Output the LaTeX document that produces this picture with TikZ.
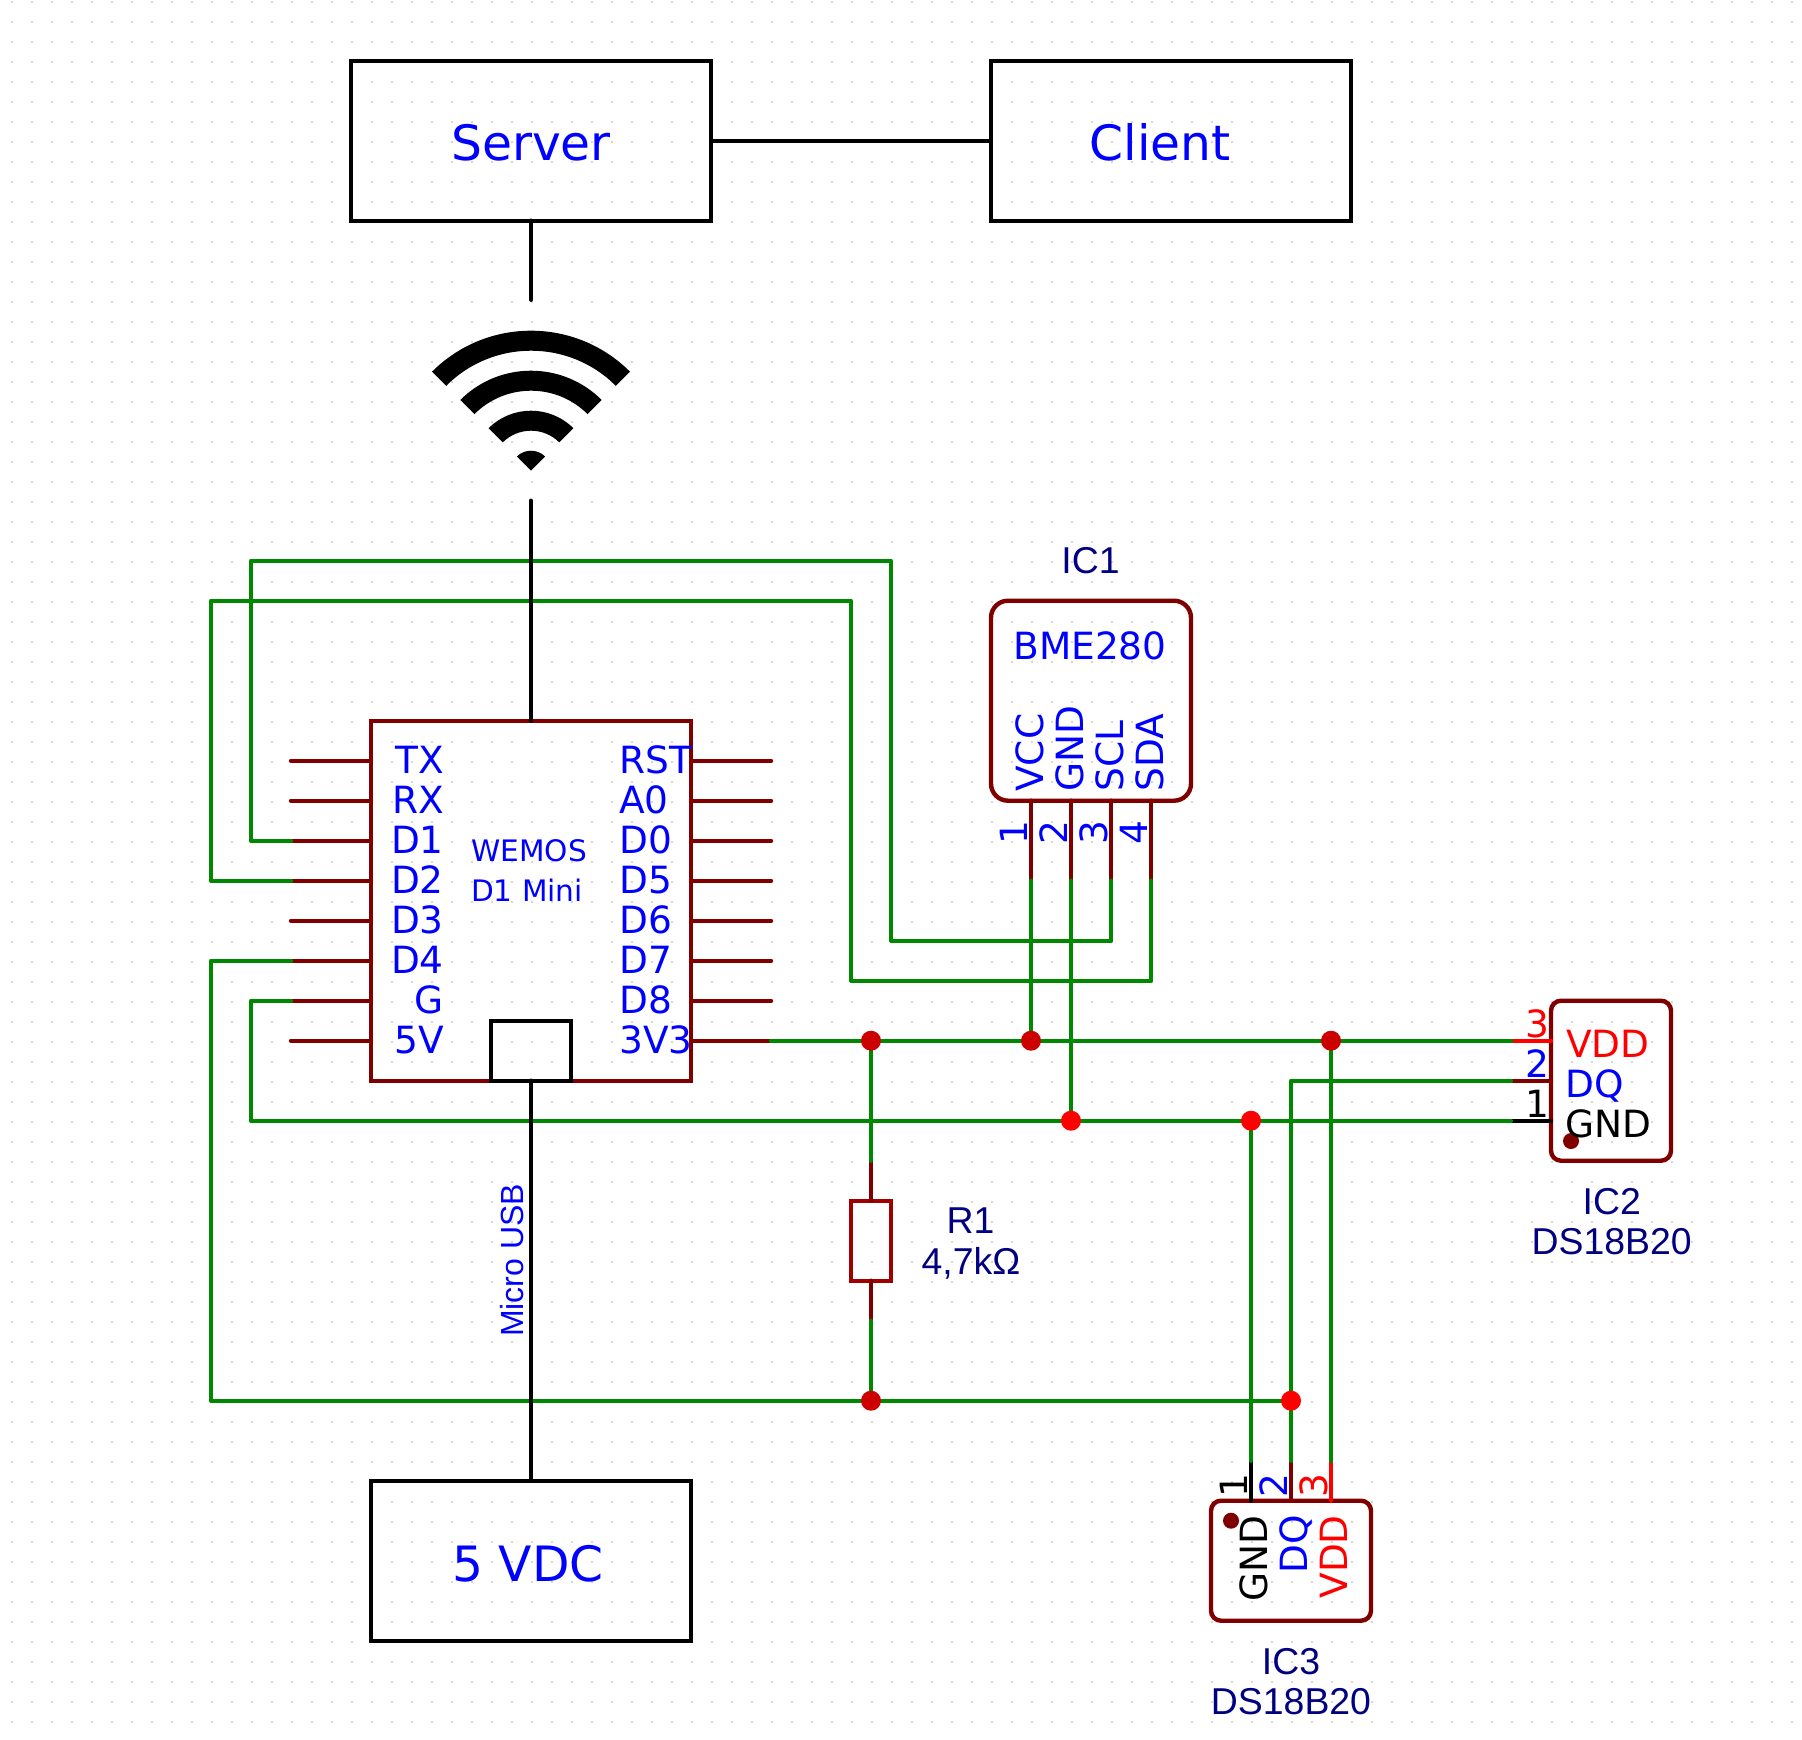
\documentclass[tikz,border=0pt]{standalone}
\usepackage{fontspec}
\newfontfamily\djfont{DejaVu Sans}
\newfontfamily\lsfont{Liberation Sans}
\definecolor{wiregreen}{HTML}{008800}
\definecolor{pinred}{HTML}{800000}
\definecolor{resred}{HTML}{A00000}
\definecolor{jdark}{HTML}{CC0000}
\definecolor{navytxt}{HTML}{000080}
\definecolor{griddot}{HTML}{D6D6D6}
\tikzset{
  x=1pt,y=-1pt,
  wire/.style={draw=wiregreen,line width=4.4pt,line join=round,line cap=round},
  pinline/.style={draw=pinred,line width=4.4pt,line cap=round},
  blk/.style={draw=black,line width=4.4pt,line cap=round},
  sqbox/.style={draw=black,line width=4.4pt,rectangle,inner sep=0pt,outer sep=0pt},
  icbox/.style={draw=pinred,line width=4.4pt,rectangle,inner sep=0pt,outer sep=0pt},
  jctdark/.style={circle,fill=jdark,minimum size=20pt,inner sep=0pt},
  jctred/.style={circle,fill=red,minimum size=20pt,inner sep=0pt},
  blue36/.style={font=\djfont\fontsize{37.5}{37.5}\selectfont,inner sep=0pt,text=blue},
  blue48/.style={font=\djfont\fontsize{48.7}{48.7}\selectfont,inner sep=0pt,text=blue},
  blue29/.style={font=\djfont\fontsize{29.6}{29.6}\selectfont,inner sep=0pt,text=blue},
  navy36/.style={font=\lsfont\fontsize{37.4}{37.4}\selectfont,inner sep=0pt,text=navytxt},
}
\begin{document}
\begin{tikzpicture}
\useasboundingbox (0,0) rectangle (1802,1740);
\fill[white] (0,0) rectangle (1802,1740);
% dotted sheet grid
\foreach \r in {0,...,86}
  \draw[griddot,line width=2pt,dash pattern=on 2pt off 18pt] (11,{1.7+20*\r}) -- (1802,{1.7+20*\r});

\begin{scope}[shift={(-1pt,1.3pt)}]
% blocks
\node[sqbox,minimum width=360pt,minimum height=160pt] (server) at (532,142) {};
\node[sqbox,minimum width=360pt,minimum height=160pt] (client) at (1172,142) {};
\node[sqbox,minimum width=320pt,minimum height=160pt] (vdc) at (532,1562) {};
\node[icbox,minimum width=320pt,minimum height=360pt] (mcu) at (532,902) {};
\node[icbox,rounded corners=17pt,minimum width=200pt,minimum height=200pt] (ic1) at (1092,702) {};
\node[icbox,rounded corners=10pt,minimum width=120pt,minimum height=160pt] (ic2) at (1612,1082) {};
\node[icbox,rounded corners=10pt,minimum width=160pt,minimum height=120pt] (ic3) at (1292,1562) {};
\node[draw=resred,line width=4.4pt,rectangle,inner sep=0pt,outer sep=0pt,minimum width=40pt,minimum height=80pt] (r1) at (872,1242) {};

% named points
\foreach \i in {1,...,8} {
  \coordinate (lp\i) at (292,{722+40*\i});
  \coordinate (rp\i) at (772,{722+40*\i});
  \draw[pinline] (lp\i) -- (mcu.west |- lp\i);
  \draw[pinline] (rp\i) -- (mcu.east |- rp\i);
}
\coordinate (p1a) at (1032,882); \coordinate (p1b) at (1072,882);
\coordinate (p1c) at (1112,882); \coordinate (p1d) at (1152,882);
\coordinate (p2v) at (1512,1042); \coordinate (p2q) at (1512,1082); \coordinate (p2g) at (1512,1122);
\coordinate (p3g) at (1252,1462); \coordinate (p3q) at (1292,1462); \coordinate (p3v) at (1332,1462);
\coordinate (rtop) at (872,1162); \coordinate (rbot) at (872,1322);
\coordinate (ja) at (872,1042); \coordinate (jb) at (1032,1042); \coordinate (jc) at (1332,1042);
\coordinate (jd) at (1072,1122); \coordinate (je) at (1252,1122);
\coordinate (jf) at (872,1402); \coordinate (jg) at (1292,1402);

% component pins
\draw[pinline] (p1a) -- (ic1.south -| p1a);
\draw[pinline] (p1b) -- (ic1.south -| p1b);
\draw[pinline] (p1c) -- (ic1.south -| p1c);
\draw[pinline] (p1d) -- (ic1.south -| p1d);
\draw[pinline,draw=red] (p2v) -- (ic2.west |- p2v);
\draw[pinline] (p2q) -- (ic2.west |- p2q);
\draw[pinline,draw=black] (p2g) -- (ic2.west |- p2g);
\draw[pinline,draw=black] (p3g) -- (ic3.north -| p3g);
\draw[pinline] (p3q) -- (ic3.north -| p3q);
\draw[pinline,draw=red] (p3v) -- (ic3.north -| p3v);
\draw[pinline] (rtop) -- (r1.north);
\draw[pinline] (rbot) -- (r1.south);

% green wires
\draw[wire] (lp3) -- (252,842) -- (252,562) -- (892,562) -- (892,942) -- (1112,942) -- (p1c);
\draw[wire] (lp4) -- (212,882) -- (212,602) -- (852,602) -- (852,982) -- (1152,982) -- (p1d);
\draw[wire] (lp6) -- (212,962) -- (212,1402) -- (jg);
\draw[wire] (lp7) -- (252,1002) -- (252,1122) -- (p2g);
\draw[wire] (rp8) -- (p2v);
\draw[wire] (p1a) -- (jb);
\draw[wire] (p1b) -- (jd);
\draw[wire] (ja) -- (rtop);
\draw[wire] (rbot) -- (jf);
\draw[wire] (p2q) -- (1292,1082) -- (p3q);
\draw[wire] (je) -- (p3g);
\draw[wire] (jc) -- (p3v);

% black links
\coordinate (wifiup) at (532,301);
\coordinate (wifidn) at (532,502);
\node[sqbox,minimum width=80pt,minimum height=60pt] (usb) at (532,1052) {};
\draw[blk,line cap=butt] (server.east) -- (client.west);
\draw[blk] (server.south) -- (wifiup);
\draw[blk] (wifidn) -- (mcu.north);
\draw[blk] (usb.south) -- (vdc.north);

% wifi symbol
\coordinate (wifi) at (532,472);
\fill[black] (wifi) -- ++(45:20pt) arc[start angle=45,end angle=135,radius=20pt] -- cycle;
\foreach \ri/\ro in {40/60,80/100,120/140}
  \fill[black] (wifi) ++(45:\ri pt) -- ++(45:{(\ro-\ri)*1pt}) arc[start angle=45,end angle=135,radius=\ro pt] -- ++(-45:{(\ro-\ri)*1pt}) arc[start angle=135,end angle=45,radius=\ri pt] -- cycle;

% junctions
\node[jctdark] (dota) at (ja) {};
\node[jctdark] (dotb) at (jb) {};
\node[jctdark] (dotc) at (jc) {};
\node[jctred] (dotd) at (jd) {};
\node[jctred] (dote) at (je) {};
\node[jctdark] (dotf) at (jf) {};
\node[jctred] (dotg) at (jg) {};
\node[circle,fill=pinred,minimum size=16pt,inner sep=0pt] (mark2) at (1572,1142.3) {};
\node[circle,fill=pinred,minimum size=16pt,inner sep=0pt] (mark3) at (1232,1522) {};
\end{scope}

% block text
\node[blue48,anchor=base] (tserver) at (531,160.5) {Server};
\node[blue48,anchor=base] (tclient) at (1160,160.5) {Client};
\node[blue48,anchor=base] (tvdc) at (528,1581) {5 VDC};
\node[blue29,anchor=base] (twemos) at (529,861) {WEMOS};
\node[blue29,anchor=base] (tmini) at (527,901) {D1 Mini};
\node[font=\lsfont\fontsize{32}{32}\selectfont,inner sep=0pt,text=blue,rotate=90,anchor=base west] (tusb) at (523,1337) {Micro USB};
% MCU pin names
\foreach \n/\t [count=\i from 0] in {a/TX,b/RX,c/D1,d/D2,e/D3,f/D4,g/G,h/5V}
  \node[blue36,anchor=base east] (tl\n) at (444,{773+40*\i}) {\t};
\foreach \n/\t [count=\i from 0] in {a/RST,b/A0,c/D0,d/D5,e/D6,f/D7,g/D8,h/3V3}
  \node[blue36,anchor=base west] (tr\n) at (619,{773+40*\i}) {\t};
% IC1
\node[navy36,anchor=base] (tic1) at (1090.5,573) {IC1};
\node[blue36,anchor=base] (tbme) at (1090,659) {BME280};
\node[blue36,rotate=90,anchor=base west] (t1a) at (1043,792) {VCC};
\node[blue36,rotate=90,anchor=base west] (t1b) at (1083,792) {GND};
\node[blue36,rotate=90,anchor=base west] (t1c) at (1123,792) {SCL};
\node[blue36,rotate=90,anchor=base west] (t1d) at (1163,792) {SDA};
\node[blue36,rotate=90,anchor=base] (n1a) at (1027,833) {1};
\node[blue36,rotate=90,anchor=base] (n1b) at (1067,833) {2};
\node[blue36,rotate=90,anchor=base] (n1c) at (1107,833) {3};
\node[blue36,rotate=90,anchor=base] (n1d) at (1147,833) {4};
% IC2
\node[blue36,text=red,anchor=base west] (t2v) at (1566,1057) {VDD};
\node[blue36,anchor=base west] (t2q) at (1565,1097) {DQ};
\node[blue36,text=black,anchor=base west] (t2g) at (1565,1137) {GND};
\node[blue36,text=red,anchor=base] (n2v) at (1537,1037) {3};
\node[blue36,anchor=base] (n2q) at (1537,1077) {2};
\node[blue36,text=black,anchor=base] (n2g) at (1537,1117) {1};
\node[navy36,anchor=base] (tic2) at (1611.7,1214) {IC2};
\node[navy36,anchor=base] (tds2) at (1611.7,1254) {DS18B20};
% IC3
\node[blue36,text=black,rotate=90,anchor=base east] (t3g) at (1267,1515) {GND};
\node[blue36,rotate=90,anchor=base east] (t3q) at (1307,1515) {DQ};
\node[blue36,text=red,rotate=90,anchor=base east] (t3v) at (1347,1515) {VDD};
\node[blue36,text=black,rotate=90,anchor=base] (n3g) at (1247,1486) {1};
\node[blue36,rotate=90,anchor=base] (n3q) at (1287,1486) {2};
\node[blue36,text=red,rotate=90,anchor=base] (n3v) at (1327,1486) {3};
\node[navy36,anchor=base] (tic3) at (1291,1674) {IC3};
\node[navy36,anchor=base] (tds3) at (1291,1714) {DS18B20};
% R1
\node[navy36,anchor=base] (tr1) at (970.5,1233) {R1};
\node[navy36,anchor=base] (tr1v) at (971,1274) {4,7k\symbol{"03A9}};
\end{tikzpicture}
\end{document}
